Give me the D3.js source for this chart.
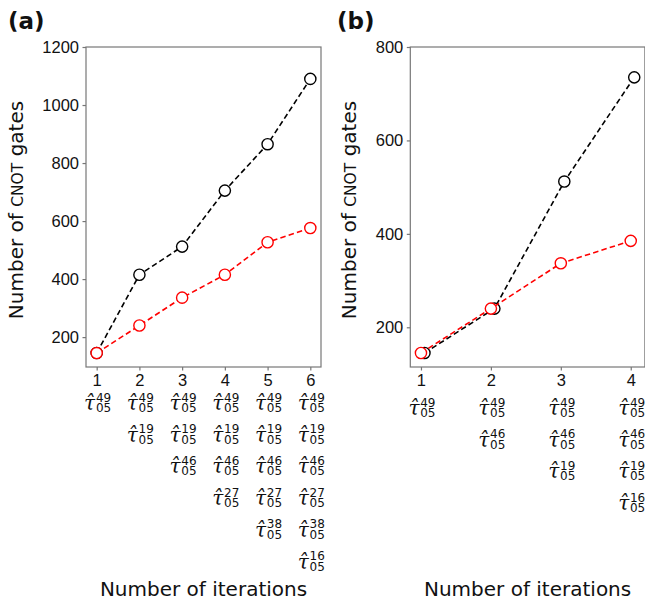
<!DOCTYPE html>
<meta charset="utf-8">
<style>
body { margin: 0; background: #fff; }
svg { font-family: "DejaVu Sans", sans-serif; }
.frame { fill: none; stroke: #777; stroke-width: 1.2px; }
.tick line { stroke: #777; stroke-width: 1.2px; }
.tick text { font-size: 16.5px; fill: #111; }
.trace { fill: none; stroke-width: 1.6px; stroke-dasharray: 5.5,3.2; }
.dot { fill: #fff; stroke-width: 1.4px; }
.ylab, .xlab { font-size: 20px; fill: #111; }
.panel { font-size: 23px; font-weight: bold; fill: #111; }
.tauLab { fill: #111; }
.tau { font-family: "DejaVu Serif", serif; font-style: italic; font-size: 20px; }
.idx { font-family: "DejaVu Sans", sans-serif; font-size: 12px; }
</style>
<body>
<svg width="645" height="601"></svg>
</body>
<script src="https://d3js.org/d3.v7.min.js"></script>
<script>
// panel (a)
var iterA  = [1, 2, 3, 4, 5, 6];
var blackA = [145, 415, 512, 705, 865, 1090];
var redA   = [145, 240, 336, 415, 527, 576];
var yTicksA = [200, 400, 600, 800, 1000, 1200];
var tauA = [["49"],
            ["49", "19"],
            ["49", "19", "46"],
            ["49", "19", "46", "27"],
            ["49", "19", "46", "27", "38"],
            ["49", "19", "46", "27", "38", "16"]];

// panel (b) - black series is shifted a bit to the right in the original
var iterB   = [1, 2, 3, 4];
var blackXB = [1.05, 2.05, 3.05, 4.05];
var blackB  = [145, 240, 512, 735];
var redB    = [145, 240, 337, 385];
var yTicksB = [200, 400, 600, 800];
var tauB = [["49"],
            ["49", "46"],
            ["49", "46", "19"],
            ["49", "46", "19", "16"]];

var svg = d3.select("svg");

function panel(cfg) {
    var g = svg.append("g");
    var x = d3.scaleLinear().domain(cfg.xDom).range([cfg.left, cfg.right]);
    var y = d3.scaleLinear().domain(cfg.yDom).range([cfg.bottom, cfg.top]);

    g.append("g")
        .attr("transform", "translate(" + cfg.left + ",0)")
        .call(d3.axisLeft(y).tickValues(cfg.yTicks).tickFormat(d3.format("d")).tickSize(3.5).tickPadding(3.5))
        .call(function(a) { a.select(".domain").remove(); });

    g.append("g")
        .attr("transform", "translate(0," + cfg.bottom + ")")
        .call(d3.axisBottom(x).tickValues(cfg.iter).tickFormat(d3.format("d")).tickSize(3.5).tickPadding(3.5))
        .call(function(a) { a.select(".domain").remove(); });

    g.append("rect")
        .attr("class", "frame")
        .attr("x", cfg.left).attr("y", cfg.top)
        .attr("width", cfg.right - cfg.left)
        .attr("height", cfg.bottom - cfg.top);

    var series = [
        {xs: cfg.blackX, ys: cfg.black, color: "#000"},
        {xs: cfg.iter,   ys: cfg.red,   color: "#ff0000"}
    ];
    series.forEach(function(s) {
        var pts = s.ys.map(function(v, i) { return [s.xs[i], v]; });
        g.append("path")
            .attr("class", "trace")
            .attr("stroke", s.color)
            .attr("d", d3.line().x(function(d) { return x(d[0]); }).y(function(d) { return y(d[1]); })(pts));
        g.selectAll(null).data(pts).enter().append("circle")
            .attr("class", "dot")
            .attr("stroke", s.color)
            .attr("cx", function(d) { return x(d[0]); })
            .attr("cy", function(d) { return y(d[1]); })
            .attr("r", 5.6);
    });

    // stacked tau-hat labels under every tick, one text element per label
    cfg.tau.forEach(function(col, i) {
        col.forEach(function(sup, k) {
            var cx = x(cfg.iter[i]), by = cfg.tauBase + k * 31.7;
            var t = g.append("text").attr("class", "tauLab");
            t.append("tspan").attr("class", "tau").attr("x", cx - 1.5).attr("y", by - 2)
                .attr("text-anchor", "end").text("τ\u0302");
            t.append("tspan").attr("class", "idx").attr("x", cx - 0.8).attr("y", by - 10.5).text(sup);
            t.append("tspan").attr("class", "idx").attr("x", cx - 0.8).attr("y", by).text("05");
        });
    });

    var mid = (cfg.top + cfg.bottom) / 2 + 3;
    var yl = g.append("text")
        .attr("class", "ylab")
        .attr("text-anchor", "middle")
        .attr("transform", "translate(" + cfg.yLabX + "," + mid + ") rotate(-90)");
    yl.append("tspan").text("Number of ");
    yl.append("tspan").style("font-size", "15.5px").text("CNOT");
    yl.append("tspan").text(" gates");

    g.append("text")
        .attr("class", "xlab")
        .attr("text-anchor", "middle")
        .attr("x", (cfg.left + cfg.right) / 2)
        .attr("y", 596)
        .text("Number of iterations");

    g.append("text")
        .attr("class", "panel")
        .attr("x", cfg.tagX).attr("y", 29)
        .text(cfg.tag);
}

panel({
    tag: "(a)", tagX: 8, yLabX: 23,
    left: 86, right: 321, top: 47, bottom: 367,
    xDom: [0.75, 6.25], yDom: [97, 1200],
    iter: iterA, blackX: iterA, black: blackA, red: redA,
    yTicks: yTicksA, tau: tauA, tauBase: 412
});

panel({
    tag: "(b)", tagX: 337, yLabX: 355.5,
    left: 410.3, right: 644.9, top: 47, bottom: 367,
    xDom: [0.8475, 4.2025], yDom: [115, 800],
    iter: iterB, blackX: blackXB, black: blackB, red: redB,
    yTicks: yTicksB, tau: tauB, tauBase: 417
});
</script>
